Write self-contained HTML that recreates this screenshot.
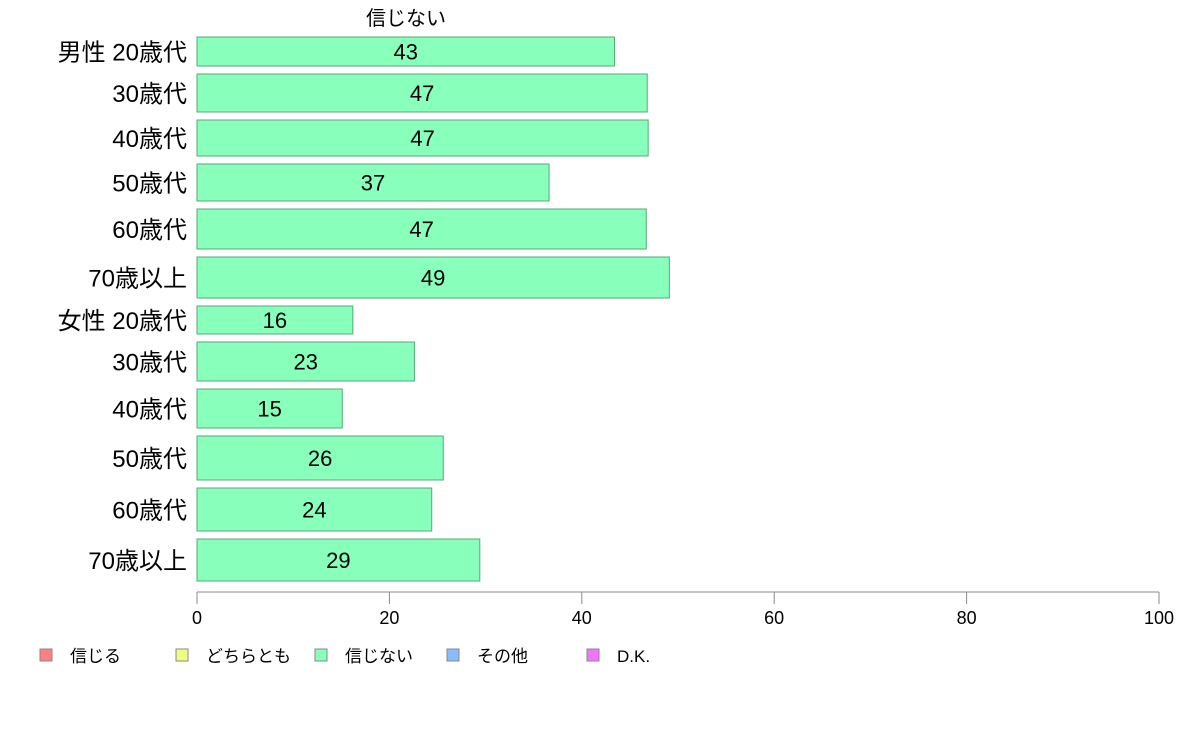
<!DOCTYPE html>
<html><head><meta charset="utf-8">
<style>
body{margin:0;background:#fff;}
svg text{font-family:"Liberation Sans","Noto Sans CJK JP",sans-serif;fill:#000;}
</style></head>
<body>
<svg id="chart" width="1188" height="736"></svg>
<script>
const categories=["男性 20歳代","30歳代","40歳代","50歳代","60歳代","70歳以上","女性 20歳代","30歳代","40歳代","50歳代","60歳代","70歳以上"];
const values=[43.4,46.8,46.9,36.6,46.7,49.1,16.2,22.6,15.1,25.6,24.4,29.4];
const labels=["43","47","47","37","47","49","16","23","15","26","24","29"];
const weights=[29,38,36,37,40,41,28,39,39,44,43,42];
const ticks=[0,20,40,60,80,100];
const legendNames=["信じる","どちらとも","信じない","その他","D.K."];
const legendColors=["#ff8080","#eeff80","#88ffbb","#88bbff","#ee77ff"];

const NS="http://www.w3.org/2000/svg";
const svg=document.getElementById("chart");
function mk(t,a,txt){const e=document.createElementNS(NS,t);for(const k in a)e.setAttribute(k,a[k]);if(txt!==undefined)e.textContent=txt;svg.appendChild(e);return e;}
const x0=197,x1=1159,yTop=37,yBot=581;
function xs(v){return x0+(x1-x0)*v/100;}
const gap=8;
const totalW=weights.reduce((a,b)=>a+b,0);
const scaleH=(yBot-yTop-gap*(weights.length-1))/totalW;

const title=mk("text",{x:406,y:25,"font-size":20,"text-anchor":"middle"},"信じない");



let y=yTop;
categories.forEach((c,i)=>{
  const h=weights[i]*scaleH;
  const r=mk("rect",{x:x0,y:y,width:xs(values[i])-x0,height:h,fill:"#88ffbb",stroke:"#55aa77","stroke-width":1});
  
  
  const t=mk("text",{x:(x0+xs(values[i]))/2,y:y+h/2+8,"font-size":22,"text-anchor":"middle"},labels[i]);
  
  
  const l=mk("text",{x:187,y:y+h/2+9,"font-size":24,"text-anchor":"end"},c);
  
  
  y+=h+gap;
});

const ax=mk("line",{x1:x0,y1:592,x2:x1,y2:592,stroke:"#888","stroke-width":1});


ticks.forEach(t=>{
  const tl=mk("line",{x1:xs(t),y1:592,x2:xs(t),y2:604,stroke:"#888","stroke-width":1});
  
  
  const tt=mk("text",{x:xs(t),y:624,"font-size":18,"text-anchor":"middle"},String(t));
  
  
});

const legX=[40,176,315,447,587];
legendNames.forEach((n,i)=>{
  const b=mk("rect",{x:legX[i],y:649,width:12,height:12,fill:legendColors[i],stroke:"#888","stroke-width":1});
  
  
  const t=mk("text",{x:legX[i]+30,y:662,"font-size":17},n);
  
  
});
</script>
</body></html>
